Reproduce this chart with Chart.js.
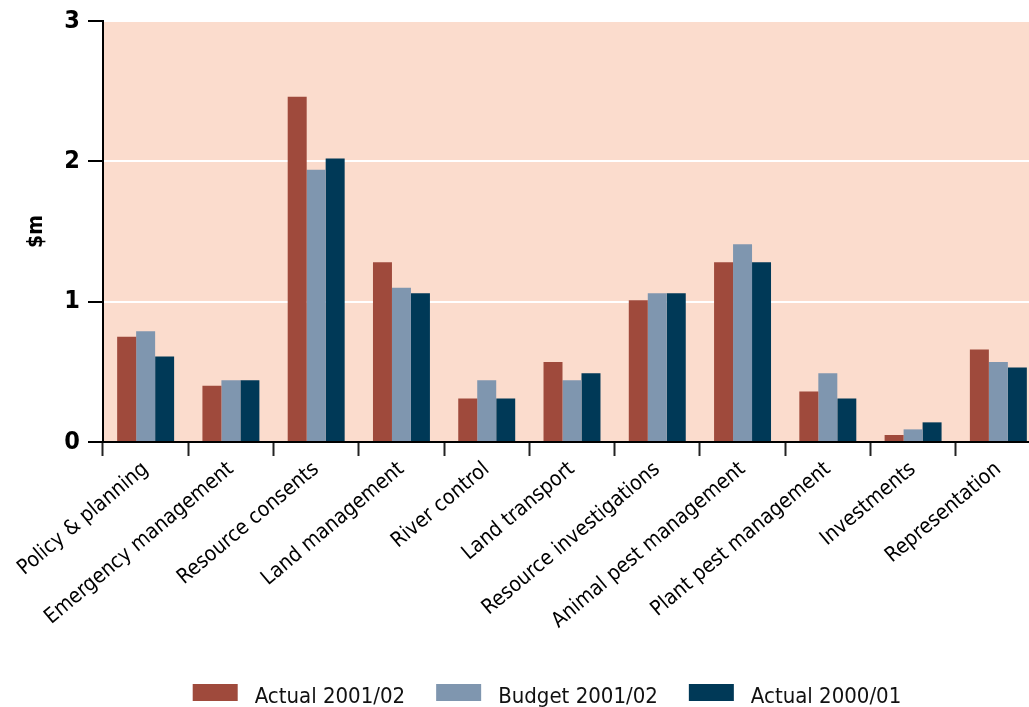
<!DOCTYPE html>
<html>
<head>
<meta charset="utf-8">
<script src="https://cdn.jsdelivr.net/npm/chart.js@4.4.1/dist/chart.umd.min.js"></script>
<style>
  html, body { margin: 0; padding: 0; background: #fff; }
  #wrap { width: 1029px; height: 707px; position: relative; overflow: hidden; }
</style>
</head>
<body>
<div id="wrap"><canvas id="chart" width="1041" height="707"></canvas></div>
<script>
// 類別與數值 ($m)
const categories = [
  'Policy & planning', 'Emergency management', 'Resource consents', 'Land management',
  'River control', 'Land transport', 'Resource investigations', 'Animal pest management',
  'Plant pest management', 'Investments', 'Representation'
];
const actual0102 = [0.75, 0.40, 2.46, 1.28, 0.31, 0.57, 1.01, 1.28, 0.36, 0.05, 0.66];
const budget0102 = [0.79, 0.44, 1.94, 1.10, 0.44, 0.44, 1.06, 1.41, 0.49, 0.09, 0.57];
const actual0001 = [0.61, 0.44, 2.02, 1.06, 0.31, 0.49, 1.06, 1.28, 0.31, 0.14, 0.53];
const yTicks = [0, 1, 2, 3];
const seriesLabels = ['Actual 2001/02', 'Budget 2001/02', 'Actual 2000/01'];
const seriesColors = ['#9f4a3c', '#7f96af', '#003957'];

const FONT = "'Liberation Sans Narrow', 'DejaVu Sans Condensed', 'Arial Narrow', sans-serif";

// 繪圖區底色
const plotBg = {
  id: 'plotBg',
  beforeDraw(chart) {
    const { ctx, chartArea: a } = chart;
    ctx.save();
    ctx.fillStyle = '#fbdccd';
    ctx.fillRect(a.left, a.top, a.right - a.left, a.bottom - a.top);
    ctx.restore();
  }
};

// 底部圖例
const bottomLegend = {
  id: 'bottomLegend',
  afterDraw(chart) {
    const ctx = chart.ctx;
    const boxW = 45, boxH = 17, gapText = 17, gapItem = 31;
    ctx.save();
    ctx.font = `22px ${FONT}`;
    const items = chart.data.datasets.map(d => ({
      text: d.label, color: d.backgroundColor, w: ctx.measureText(d.label).width
    }));
    const total = items.reduce((s, it) => s + boxW + gapText + it.w, 0) + gapItem * (items.length - 1);
    let x = 547 - total / 2;
    ctx.textBaseline = 'alphabetic';
    items.forEach(it => {
      ctx.fillStyle = it.color;
      ctx.fillRect(x, 684, boxW, boxH);
      x += boxW + gapText;
      ctx.fillStyle = '#111';
      ctx.fillText(it.text, x, 703);
      x += it.w + gapItem;
    });
    ctx.restore();
  }
};

const seriesData = [actual0102, budget0102, actual0001];

new Chart(document.getElementById('chart'), {
  type: 'bar',
  data: {
    labels: categories,
    datasets: seriesData.map((d, i) => ({
      label: seriesLabels[i],
      data: d,
      backgroundColor: seriesColors[i],
      borderWidth: 0,
      barPercentage: 1,
      categoryPercentage: 0.668
    }))
  },
  options: {
    responsive: false,
    animation: false,
    layout: { padding: { top: 21, right: 0, bottom: 0, left: 0 } },
    plugins: {
      legend: { display: false },
      tooltip: { enabled: false }
    },
    scales: {
      x: {
        afterFit(s) { s.height = 265; },
        ticks: {
          font: { size: 21, family: FONT }, color: '#000',
          minRotation: 40, maxRotation: 40, padding: 1, autoSkip: false
        },
        grid: {
          offset: true, drawOnChartArea: false, drawTicks: true,
          tickLength: 14, tickColor: '#222', tickWidth: 2
        },
        border: { color: '#000', width: 2 }
      },
      y: {
        min: 0, max: 3,
        afterFit(s) { s.width = 103; s.paddingTop = 0; s.paddingBottom = 0; },
        afterBuildTicks(s) { s.ticks = yTicks.map(v => ({ value: v })); },
        ticks: { font: { size: 25, weight: 'bold', family: FONT }, color: '#000', padding: 8 },
        grid: { color: '#fff', lineWidth: 2, tickColor: '#000', tickWidth: 2, tickLength: 15 },
        border: { color: '#000', width: 2 },
        title: {
          display: true, text: '$m', color: '#000',
          font: { size: 21, weight: 'bold', family: FONT },
          padding: { top: 24, bottom: 0 }
        }
      }
    }
  },
  plugins: [plotBg, bottomLegend]
});
</script>
</body>
</html>
